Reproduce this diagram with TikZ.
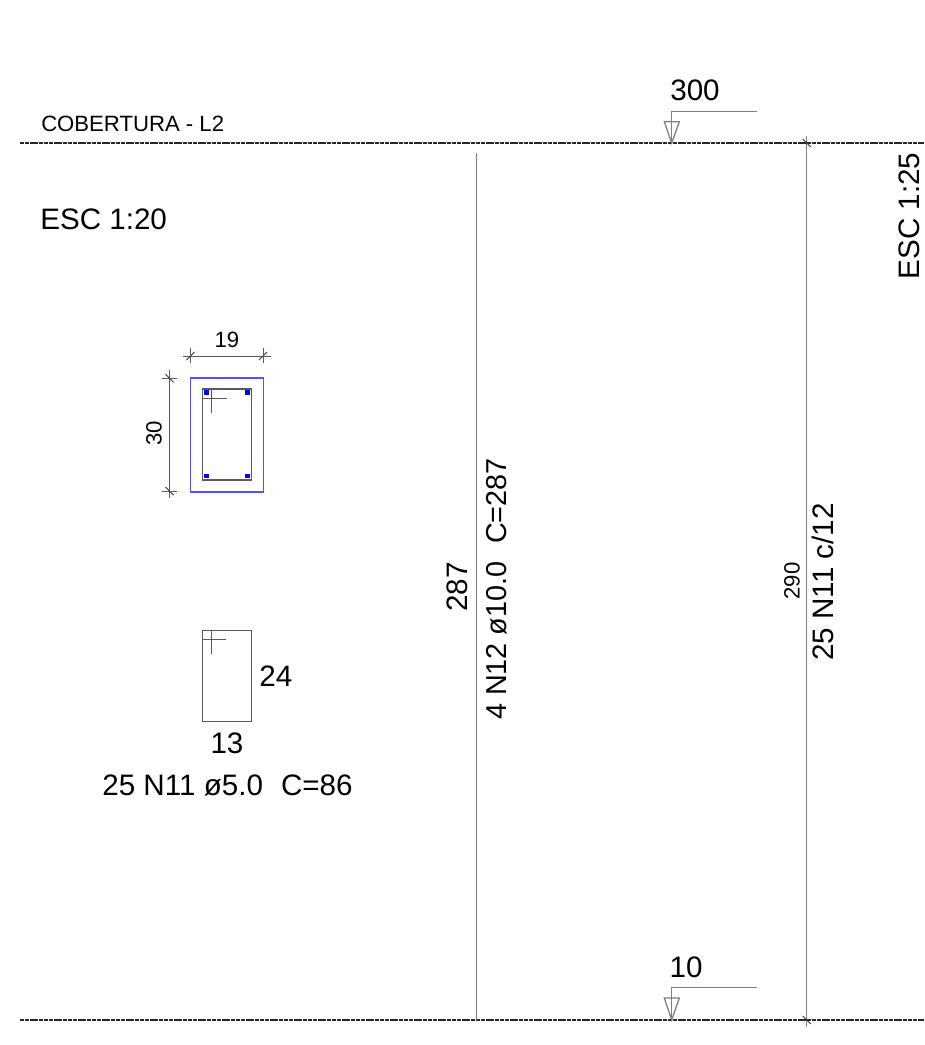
\documentclass[tikz,border=0pt]{standalone}
\usepackage{fontspec}
\setmainfont{Liberation Sans}
\usetikzlibrary{
    calc,
    positioning
}
\definecolor{linegray}{RGB}{125,125,125}
\definecolor{coverblue}{RGB}{80,80,255}
\tikzset{
    thinline/.style={draw=linegray, line width=0.95pt},
    darkline/.style={draw=black!65, line width=0.75pt},
    levelline/.style={draw=black!85, line width=0.8pt, dash pattern=on 3pt off 0.6pt},
    bigtext/.style={inner sep=0pt, font=\fontsize{22.2}{24}\selectfont},
    smalltext/.style={inner sep=0pt, font=\fontsize{16.6}{20}\selectfont},
    stirrup/.style={draw=black!65, line width=0.85pt, inner sep=0pt, minimum width=36.75pt},
    rebar/.style={fill=blue, inner sep=0pt, minimum size=3.6pt},
    slashup/.pic={\draw[black!80, line width=0.6pt] (-4,4) -- (4,-4);},
    slashdown/.pic={\draw[black!80, line width=0.6pt] (-4,-4) -- (4,4);}
}
\begin{document}
\begin{tikzpicture}[x=0.75pt, y=-0.75pt]
    \useasboundingbox (0,0) rectangle (924,1045);

    % levels
    \coordinate (top west) at (20,143);
    \coordinate (top east) at (924,143);
    \coordinate (bottom west) at (20,1020);
    \coordinate (bottom east) at (924,1020);
    \draw[levelline] (top west) -- (top east);
    \draw[levelline] (bottom west) -- (bottom east);
    \node[smalltext, anchor=west] (covername) at (41,124) {COBERTURA - L2};
    \node[bigtext, anchor=west] (scaleleft) at (40,219.5) {ESC 1:20};
    \node[bigtext, rotate=90] (scaleright) at (909.5,216) {ESC 1:25};

    % level marker 300
    \node[bigtext] (leveltop) at (695,90.5) {300};
    \coordinate (topelbow) at (671.7,111.3);
    \coordinate (topend) at (757.3,111.3);
    \coordinate (toptip) at (671.7,143);
    \coordinate (topleft) at (664.3,121.7);
    \coordinate (topright) at (679.3,121.7);
    \draw[thinline] (topend) -- (topelbow) -- (toptip);
    \draw[thinline] (topleft) -- (topright) -- (toptip) -- cycle;

    % level marker 10
    \node[bigtext] (levelbottom) at (686,967.5) {10};
    \coordinate (botelbow) at (671.7,987.7);
    \coordinate (botend) at (757.3,987.7);
    \coordinate (bottip) at (671.7,1020);
    \coordinate (botleft) at (664.3,998);
    \coordinate (botright) at (679.3,998);
    \draw[thinline] (botend) -- (botelbow) -- (bottip);
    \draw[thinline] (botleft) -- (botright) -- (bottip) -- cycle;

    % long bars
    \coordinate (n12top) at (476.3,153);
    \coordinate (n12bottom) at (476.3,1020);
    \draw[thinline] (n12top) -- (n12bottom);
    \node[bigtext, rotate=90] (n12length) at (457,587) {287};
    \node[bigtext, rotate=90, font=\fontsize{21.6}{24}\selectfont] (n12name) at (497,589) {4 N12 ø10.0\, \,C=287};

    \coordinate (n11top) at (806.7,135.7);
    \coordinate (n11bottom) at (806.7,1026.7);
    \draw[thinline] (n11top) -- (n11bottom);
    \path (806.7,143) pic {slashdown};
    \path (806.7,1020) pic {slashdown};
    \node[smalltext, rotate=90] (n11length) at (792,581) {290};
    \node[bigtext, rotate=90] (n11name) at (823,582) {25 N11 c/12};

    % section
    \node[draw=coverblue, line width=1.1pt, inner sep=0pt, minimum width=54.9pt, minimum height=85.5pt] (cover) at (227.1,434.8) {};
    \node[stirrup, minimum height=68.25pt] (ties) at (227,434.5) {};
    \node[rebar] (bar1) at (206.2,392.8) {};
    \node[rebar] (bar2) at (247.8,392.8) {};
    \node[rebar] (bar3) at (206.2,476) {};
    \node[rebar] (bar4) at (247.8,476) {};
    \coordinate (hookv1) at (211.7,389);
    \coordinate (hookv2) at (211.7,412.7);
    \coordinate (hookh1) at (202.5,398.7);
    \coordinate (hookh2) at (226.7,398.7);
    \draw[darkline] (hookv1) -- (hookv2);
    \draw[darkline] (hookh1) -- (hookh2);

    % dimensions
    \node[smalltext] (width) at (227,340) {19};
    \coordinate (width1) at (183,356);
    \coordinate (width2) at (270.7,356);
    \draw[darkline] (width1) -- (width2);
    \path (190.5,356) pic {slashup};
    \path (263,356) pic {slashup};
    \draw[darkline] (190.5,348) -- (190.5,363);
    \draw[darkline] (263,348) -- (263,363);
    \node[smalltext, rotate=90] (height) at (154,433) {30};
    \coordinate (height1) at (169.5,370);
    \coordinate (height2) at (169.5,498);
    \draw[darkline] (height1) -- (height2);
    \path (169.5,378.3) pic {slashdown};
    \path (169.5,491) pic {slashdown};
    \draw[darkline] (161.7,378.3) -- (176.7,378.3);
    \draw[darkline] (161.7,491) -- (176.7,491);

    % stirrup
    \node[stirrup, minimum height=67.9pt] (shape) at (227,675.8) {};
    \coordinate (shookv1) at (211.7,630.7);
    \coordinate (shookv2) at (211.7,654);
    \coordinate (shookh1) at (202.5,639.7);
    \coordinate (shookh2) at (226,639.7);
    \draw[darkline] (shookv1) -- (shookv2);
    \draw[darkline] (shookh1) -- (shookh2);
    \node[bigtext, right=5.25pt of shape] (shapeheight) {24};
    \node[bigtext] (shapewidth) at (227,743) {13};
    \node[bigtext] (shapename) at (227.5,785.5) {25 N11 ø5.0\, \,C=86};
\end{tikzpicture}
\end{document}
